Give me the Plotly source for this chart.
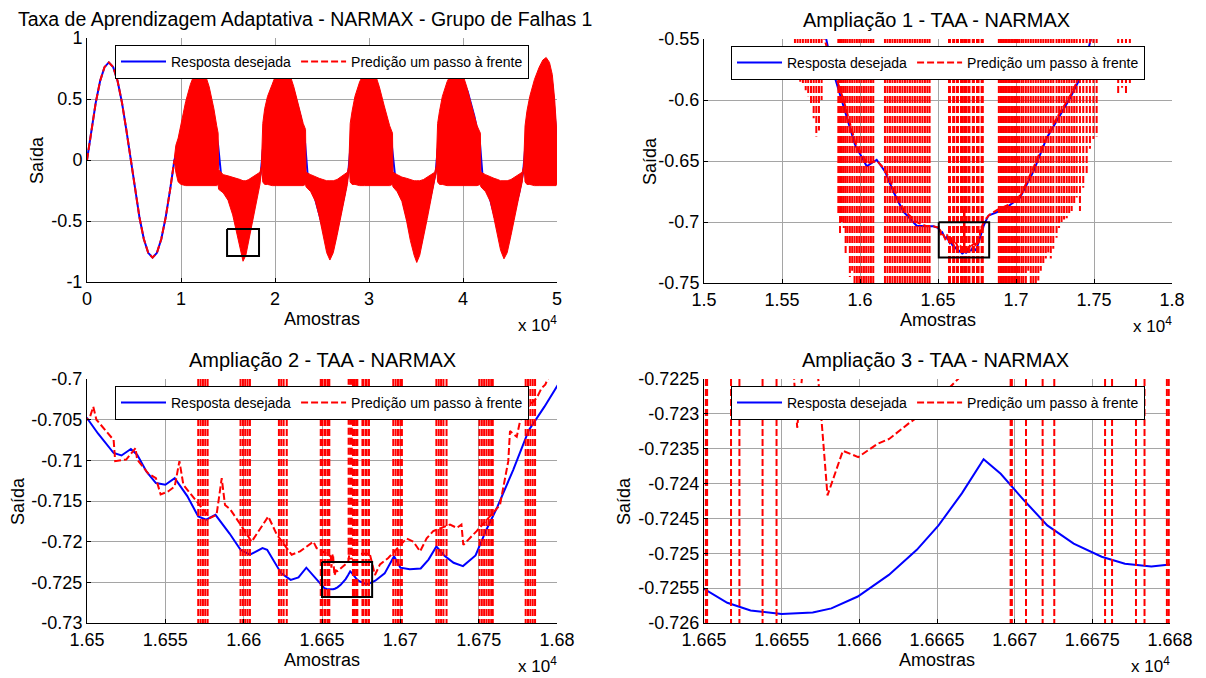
import plotly.graph_objects as go

FONT = "Liberation Sans, Arial, sans-serif"

# ---------------- Panel 1 (whole record) ----------------
tl_x_ticks = [0, 10000, 20000, 30000, 40000, 50000]
tl_x_labels = ["0", "1", "2", "3", "4", "5"]
tl_y_ticks = [-1, -0.5, 0, 0.5, 1]
tl_y_labels = ["-1", "-0.5", "0", "0.5", "1"]

# desired response: first period (clearly visible) ...
tl_blue_x = [0, 465, 930, 1395, 1860, 2325, 2790, 3255, 3720, 4185, 4650, 5115, 5580, 6045,
             6510, 6975, 7440, 7905, 8370, 8835, 9300,
             # ... then the part lying under the oscillating prediction
             9800, 10500, 11200, 12000, 12700, 13400, 13950,
             14300, 15000, 15700, 16300, 16650, 17000, 17500, 18000, 18500,
             18700, 19300, 20000, 20800, 21300, 22000, 22700, 23200,
             23500, 24200, 24900, 25500, 25850, 26300, 26900, 27400, 27800,
             28000, 28600, 29300, 30000, 30400, 31000, 31700, 32400,
             32800, 33500, 34200, 34800, 35080, 35500, 36100, 36700, 37100,
             37300, 37900, 38600, 39300, 39800, 40500, 41200, 41800,
             42100, 42800, 43500, 44000, 44360, 44800, 45400, 46000, 46400,
             46600, 47200, 47900, 48600, 49000, 49500, 50000]
tl_blue_y = [0, 0.247, 0.470, 0.647, 0.761, 0.800, 0.761, 0.647, 0.470, 0.247,
             0, -0.247, -0.470, -0.647, -0.761, -0.800, -0.761, -0.647, -0.470, -0.247, 0,
             0.12, 0.38, 0.58, 0.68, 0.60, 0.36, 0.12,
             -0.15, -0.28, -0.46, -0.64, -0.726, -0.68, -0.50, -0.28, -0.10,
             0.08, 0.36, 0.56, 0.68, 0.70, 0.56, 0.36, 0.14,
             -0.15, -0.30, -0.50, -0.68, -0.74, -0.68, -0.46, -0.28, -0.10,
             0.08, 0.38, 0.58, 0.68, 0.68, 0.56, 0.36, 0.14,
             -0.15, -0.30, -0.52, -0.72, -0.76, -0.70, -0.46, -0.26, -0.10,
             0.08, 0.38, 0.58, 0.68, 0.68, 0.56, 0.36, 0.14,
             -0.15, -0.30, -0.50, -0.66, -0.73, -0.68, -0.44, -0.26, -0.10,
             0.08, 0.38, 0.60, 0.74, 0.76, 0.62, 0.14]
# prediction equals the desired response during the first period
tl_red_x = [0, 465, 930, 1395, 1860, 2325, 2790, 3255, 3720, 4185, 4650, 5115, 5580, 6045,
            6510, 6975, 7440, 7905, 8370, 8835, 9300]
tl_red_y = [0, 0.247, 0.470, 0.647, 0.761, 0.800, 0.761, 0.647, 0.470, 0.247,
            0, -0.247, -0.470, -0.647, -0.761, -0.800, -0.761, -0.647, -0.470, -0.247, 0]
# envelope of the dense oscillating prediction (upper / lower limits)
tl_env_x = [
    9300, 9450, 9700, 10000, 10500, 11000, 11500, 12000, 12500, 13000, 13500, 13800, 13950,
    14000, 14500, 15000, 15500, 16000, 16300, 16600, 16900, 17200, 17600, 18000, 18400, 18550,
    18600, 18700, 18900, 19200, 19700, 20200, 20600, 21050, 21500, 22000, 22500, 23000, 23250,
    23300, 23800, 24300, 24700, 25100, 25500, 25840, 26200, 26600, 27000, 27400, 27700, 27850,
    27900, 28000, 28200, 28500, 29000, 29500, 29900, 30200, 30600, 31100, 31600, 32200, 32500,
    32550, 33000, 33500, 34000, 34400, 34800, 35080, 35400, 35800, 36200, 36600, 37000, 37150,
    37200, 37300, 37500, 37800, 38300, 38800, 39200, 39500, 39900, 40400, 40900, 41500, 41850,
    41900, 42400, 42900, 43300, 43700, 44000, 44360, 44700, 45100, 45500, 45900, 46300, 46450,
    46500, 46600, 46800, 47100, 47600, 48100, 48500, 48850, 49200, 49500, 49750, 49900, 50000,
]
tl_env_up = [
    0.02, 0.12, 0.18, 0.30, 0.48, 0.62, 0.72, 0.75, 0.72, 0.60, 0.42, 0.28, 0.22,
    -0.08, -0.12, -0.13, -0.14, -0.15, -0.16, -0.17, -0.17, -0.16, -0.14, -0.12, -0.10, -0.05,
    0.05, 0.30, 0.42, 0.52, 0.62, 0.72, 0.77, 0.78, 0.72, 0.60, 0.45, 0.30, 0.25,
    -0.10, -0.12, -0.14, -0.15, -0.16, -0.17, -0.17, -0.17, -0.16, -0.14, -0.12, -0.10, -0.05,
    0.05, 0.30, 0.40, 0.52, 0.64, 0.72, 0.76, 0.77, 0.72, 0.60, 0.45, 0.28, 0.22,
    -0.10, -0.12, -0.14, -0.15, -0.16, -0.17, -0.17, -0.17, -0.16, -0.14, -0.12, -0.10, -0.05,
    0.05, 0.30, 0.40, 0.52, 0.64, 0.72, 0.76, 0.77, 0.72, 0.60, 0.45, 0.28, 0.22,
    -0.10, -0.12, -0.14, -0.15, -0.16, -0.17, -0.17, -0.17, -0.16, -0.14, -0.12, -0.10, -0.05,
    0.05, 0.28, 0.40, 0.52, 0.66, 0.76, 0.82, 0.84, 0.80, 0.70, 0.50, 0.30, 0.20,
]
tl_env_lo = [
    0.0, -0.10, -0.18, -0.20, -0.21, -0.21, -0.21, -0.21, -0.21, -0.21, -0.21, -0.21, -0.20,
    -0.24, -0.27, -0.33, -0.45, -0.62, -0.74, -0.83, -0.78, -0.66, -0.50, -0.34, -0.20, -0.10,
    -0.05, -0.18, -0.20, -0.20, -0.21, -0.21, -0.21, -0.21, -0.21, -0.21, -0.21, -0.21, -0.20,
    -0.22, -0.26, -0.34, -0.46, -0.62, -0.76, -0.82, -0.76, -0.62, -0.46, -0.32, -0.20, -0.10,
    -0.05, -0.18, -0.20, -0.20, -0.21, -0.21, -0.21, -0.21, -0.21, -0.21, -0.21, -0.21, -0.20,
    -0.22, -0.26, -0.34, -0.50, -0.66, -0.78, -0.84, -0.78, -0.64, -0.48, -0.32, -0.18, -0.10,
    -0.05, -0.18, -0.20, -0.20, -0.21, -0.21, -0.21, -0.21, -0.21, -0.21, -0.21, -0.21, -0.20,
    -0.22, -0.26, -0.34, -0.48, -0.64, -0.74, -0.81, -0.76, -0.62, -0.46, -0.32, -0.18, -0.10,
    -0.05, -0.18, -0.20, -0.20, -0.21, -0.21, -0.21, -0.21, -0.21, -0.21, -0.21, -0.21, -0.20,
]
tl_box_x = [14900, 18300, 18300, 14900, 14900]
tl_box_y = [-0.566, -0.566, -0.787, -0.787, -0.566]

# ---------------- Zoomed detail (shared by panels 2-4) ----------------
zoom_blue_x = [
    15700, 15780, 15827, 15893, 15968, 16043, 16075, 16107, 16160, 16213, 16277, 16363, 16420, 16470,
    16500, 16507, 16517, 16522, 16528, 16532, 16538, 16544, 16550, 16556, 16564, 16571, 16576, 16582,
    16591, 16598, 16604, 16612, 16615, 16624, 16630, 16635, 16640, 16645,
    16650.0, 16651.5, 16653.0, 16655.0, 16657.0, 16658.2, 16659.9, 16661.9, 16663.7, 16665.1,
    16666.6, 16668.0, 16669.1, 16670.6, 16672.1, 16673.8, 16675.6, 16677.1, 16678.8, 16680.0,
    16684, 16690, 16696, 16700, 16706, 16713, 16718, 16723, 16728, 16734, 16740, 16748, 16755,
    16762, 16772, 16782, 16792, 16800, 16823, 16876, 16930, 17026, 17112, 17197, 17261, 17347,
    17422, 17474, 17520,
]
zoom_blue_y = [
    -0.520, -0.548, -0.5765, -0.604, -0.6366, -0.6543, -0.652, -0.649, -0.6585, -0.6748, -0.6913,
    -0.703, -0.7035, -0.7035,
    -0.7048, -0.7067, -0.7091, -0.7094, -0.7086, -0.7093, -0.7114, -0.7128, -0.7130, -0.7122,
    -0.7144, -0.7169, -0.7173, -0.7167, -0.7190, -0.7210, -0.7216, -0.7208, -0.7210, -0.7239,
    -0.7247, -0.7244, -0.7232, -0.7243,
    -0.72551, -0.72571, -0.72582, -0.72587, -0.72585, -0.72579, -0.72562, -0.72531, -0.72495,
    -0.72460, -0.72414, -0.72365, -0.72386, -0.72424, -0.72460, -0.72486, -0.72505, -0.72515,
    -0.72519, -0.72516,
    -0.7248, -0.7239, -0.7218, -0.7232, -0.7234, -0.7233, -0.7222, -0.7206, -0.7217, -0.7226,
    -0.7230, -0.7217, -0.7185, -0.7157, -0.7112, -0.7063, -0.7034, -0.7009, -0.6948, -0.692,
    -0.689, -0.680, -0.6585, -0.6311, -0.6175, -0.5984, -0.5793, -0.5546, -0.530,
]
zoom_red_x = [
    15760, 15830, 15895, 15970, 16045, 16110, 16160, 16215, 16280, 16360, 16420, 16470,
    16500, 16502, 16504, 16506, 16511, 16517, 16518, 16525, 16531, 16532, 16539, 16544, 16547,
    16552, 16556, 16559, 16561.5, 16570, 16578.5, 16582.7, 16586, 16588.1, 16591.3, 16596.6,
    16605.1, 16615.7, 16621.1, 16630.6, 16636, 16644.5, 16646.6,
    16655.6, 16656.0, 16656.6, 16657.0, 16657.95, 16658.94, 16659.93, 16661.17, 16661.92,
    16663.16, 16664.40, 16665.64, 16666.8, 16667.5, 16680.5,
    16683.8, 16687, 16692.3, 16704, 16708.3, 16712.6, 16716.8, 16721, 16731.7, 16736, 16739,
    16740.2, 16744.5, 16748.7, 16763.6, 16768.9, 16770, 16774.3, 16776.4, 16779.6, 16787.1,
    16790.2, 16792.5, 16796.8, 16830, 16880, 16950, 17030, 17110, 17200, 17260, 17350, 17420,
    17480,
]
zoom_red_y = [
    -0.545, -0.575, -0.600, -0.635, -0.652, -0.650, -0.657, -0.672, -0.690, -0.700, -0.703, -0.7035,
    -0.7050, -0.7046, -0.7034, -0.7050, -0.7061, -0.7075, -0.7101, -0.7099, -0.7085, -0.7099,
    -0.7116, -0.7122, -0.7142, -0.7138, -0.7132, -0.7101, -0.7130, -0.7150, -0.7171, -0.7167,
    -0.7122, -0.7155, -0.7160, -0.7175,
    -0.7200, -0.7169, -0.7191, -0.7216, -0.7212, -0.7200, -0.7208,
    -0.7218, -0.7232, -0.7218, -0.7215, -0.72417, -0.72353, -0.72362, -0.72343, -0.72336,
    -0.72314, -0.72294, -0.72267, -0.7224, -0.7215, -0.7215,
    -0.7241, -0.7228, -0.7220, -0.7196, -0.7200, -0.7212, -0.7196, -0.7187, -0.7179, -0.7183,
    -0.7179, -0.7204, -0.7196, -0.7187, -0.7155, -0.7101, -0.7064, -0.7071, -0.7052, -0.7038,
    -0.7023, -0.7011, -0.7007, -0.6988, -0.694, -0.690, -0.686, -0.678, -0.656, -0.629, -0.615,
    -0.596, -0.577, -0.550,
]

# oscillation bursts: vertical excursions of the prediction (x, lowest value)
burst_a_x = [15583, 15600, 15617, 15634, 15652, 15668, 15686, 15703, 15720, 15737, 15754]
burst_a_lo = [-0.575, -0.580, -0.585, -0.588, -0.592, -0.597, -0.605, -0.615, -0.630, -0.625, -0.600]
burst_b_x = [15861, 15872, 15884, 15896, 15908, 15920, 15935, 15950, 15965, 15980, 15995, 16010,
             16025, 16040, 16055, 16070, 16085]
burst_b_lo = [-0.694, -0.711, -0.700, -0.705, -0.727, -0.718, -0.745, -0.740, -0.80, -0.80, -0.80,
              -0.80, -0.80, -0.80, -0.80, -0.80, -0.80]
burst_c_x = [16160, 16176, 16192, 16208, 16224, 16240, 16256, 16272, 16288, 16304, 16320, 16336,
             16352, 16368, 16384, 16400, 16416, 16432, 16446]
burst_c_lo = [-0.80] * 19
burst_d_x = [16571, 16572.5, 16574, 16575.5, 16577, 16598, 16599.5, 16601, 16602.5, 16604,
             16622.5, 16624, 16625.5, 16627.5, 16649.2, 16650.12, 16650.2, 16651.74, 16652.28,
             16653.77, 16654.67, 16669.74, 16669.82, 16670.73, 16671.8, 16672.55, 16675.82,
             16676.27, 16677.81, 16678.36, 16679.8, 16679.92, 16695.5, 16697, 16698.5, 16700,
             16701, 16723, 16724.5, 16726, 16727.5, 16729.5, 16750.5, 16752, 16753.5, 16755,
             16756.5, 16758, 16759, 16780, 16781.5, 16783, 16784.5, 16786]
burst_d_lo = [-0.80] * 54
burst_d2_x = [16667.0, 16668.0, 16669.0]
burst_d2_lo = [-0.7222, -0.7222, -0.7222]
burst_e_x = [16890, 16900, 16910, 16920, 16930, 16940, 16950, 16960, 16970, 16980, 16990, 17000,
             17010, 17020]
burst_e_lo = [-0.80] * 14
burst_f_x = [17035, 17047, 17063, 17079, 17095, 17111, 17127, 17143, 17159, 17175, 17191, 17207,
             17223, 17239, 17260, 17276, 17292, 17308, 17325, 17341, 17357, 17373, 17389, 17410,
             17431, 17453, 17474, 17496, 17517]
burst_f_lo = [-0.80, -0.80, -0.76, -0.74, -0.78, -0.80, -0.76, -0.748, -0.74, -0.735, -0.73, -0.725,
              -0.73, -0.722, -0.713, -0.705, -0.700, -0.698, -0.697, -0.694, -0.691, -0.686, -0.680,
              -0.691, -0.672, -0.662, -0.640, -0.632, -0.630]
burst_g_x = [17655, 17680, 17705, 17730]
burst_g_lo = [-0.595, -0.590, -0.596, -0.586]
burst_top = -0.40      # excursions leave the zoom windows at the top
burst_d2_top = -0.69

tr_box_x = [16505, 16828, 16828, 16505, 16505]
tr_box_y = [-0.7003, -0.7003, -0.729, -0.729, -0.7003]
bl_box_x = [16650, 16682, 16682, 16650, 16650]
bl_box_y = [-0.7225, -0.7225, -0.7268, -0.7268, -0.7225]

tr_x_ticks = [15000, 15500, 16000, 16500, 17000, 17500, 18000]
tr_x_labels = ["1.5", "1.55", "1.6", "1.65", "1.7", "1.75", "1.8"]
tr_y_ticks = [-0.75, -0.7, -0.65, -0.6, -0.55]
tr_y_labels = ["-0.75", "-0.7", "-0.65", "-0.6", "-0.55"]
bl_x_ticks = [16500, 16550, 16600, 16650, 16700, 16750, 16800]
bl_x_labels = ["1.65", "1.655", "1.66", "1.665", "1.67", "1.675", "1.68"]
bl_y_ticks = [-0.73, -0.725, -0.72, -0.715, -0.71, -0.705, -0.7]
bl_y_labels = ["-0.73", "-0.725", "-0.72", "-0.715", "-0.71", "-0.705", "-0.7"]
br_x_ticks = [16650, 16655, 16660, 16665, 16670, 16675, 16680]
br_x_labels = ["1.665", "1.6655", "1.666", "1.6665", "1.667", "1.6675", "1.668"]
br_y_ticks = [-0.726, -0.7255, -0.725, -0.7245, -0.724, -0.7235, -0.723, -0.7225]
br_y_labels = ["-0.726", "-0.7255", "-0.725", "-0.7245", "-0.724", "-0.7235", "-0.723", "-0.7225"]

titles = ["Taxa de Aprendizagem Adaptativa - NARMAX - Grupo de Falhas 1",
          "Ampliação 1 - TAA - NARMAX", "Ampliação 2 - TAA - NARMAX", "Ampliação 3 - TAA - NARMAX"]
legend_names = ["Resposta desejada", "Predição um passo à frente"]

# ---------------- build ----------------
OFF = 8                      # the page body adds an 8px margin
W, H = 1206 - OFF, 678 - OFF
BLUE = "rgb(0,0,255)"
RED = "rgb(255,0,0)"
DASH = "7px,3px"

def px_x(p):
    return (p - OFF) / W

def px_y(p):
    return 1 - (p - OFF) / H

# plot rectangles in window pixels: left, right, top, bottom
rects = [(87, 557, 38, 282), (704, 1172, 39, 283), (87, 557, 379, 623), (704, 1170, 379, 623)]

def bursts(groups, top):
    X, Y = [], []
    for xs, los in groups:
        for x, lo in zip(xs, los):
            X += [x, x, None]
            Y += [top, lo, None]
    return X, Y

fig = go.Figure()

# Panel 1
fig.add_trace(go.Scatter(x=tl_blue_x, y=tl_blue_y, mode="lines", line=dict(color=BLUE, width=2),
                         name=legend_names[0], legend="legend", xaxis="x", yaxis="y"))
fig.add_trace(go.Scatter(x=tl_red_x, y=tl_red_y, mode="lines", line=dict(color=RED, width=2, dash=DASH),
                         name=legend_names[1], legend="legend", xaxis="x", yaxis="y"))
fig.add_trace(go.Scatter(x=tl_env_x, y=tl_env_lo, mode="lines", line=dict(color=RED, width=1),
                         showlegend=False, xaxis="x", yaxis="y"))
fig.add_trace(go.Scatter(x=tl_env_x, y=tl_env_up, mode="lines", line=dict(color=RED, width=1),
                         fill="tonexty", fillcolor=RED, showlegend=False, xaxis="x", yaxis="y"))
fig.add_trace(go.Scatter(x=tl_box_x, y=tl_box_y, mode="lines", line=dict(color="black", width=2),
                         showlegend=False, xaxis="x", yaxis="y"))

groups_main = [(burst_a_x, burst_a_lo), (burst_b_x, burst_b_lo), (burst_c_x, burst_c_lo),
               (burst_d_x, burst_d_lo), (burst_e_x, burst_e_lo), (burst_f_x, burst_f_lo),
               (burst_g_x, burst_g_lo)]
bx, by = bursts(groups_main, burst_top)
bx2, by2 = bursts([(burst_d2_x, burst_d2_lo)], burst_d2_top)

boxes = {2: (tr_box_x, tr_box_y), 3: (bl_box_x, bl_box_y)}
for i in (2, 3, 4):
    xa, ya, lg = f"x{i}", f"y{i}", f"legend{i}"
    fig.add_trace(go.Scatter(x=zoom_blue_x, y=zoom_blue_y, mode="lines", line=dict(color=BLUE, width=2),
                             name=legend_names[0], legend=lg, xaxis=xa, yaxis=ya))
    fig.add_trace(go.Scatter(x=zoom_red_x, y=zoom_red_y, mode="lines",
                             line=dict(color=RED, width=2, dash=DASH),
                             name=legend_names[1], legend=lg, xaxis=xa, yaxis=ya))
    fig.add_trace(go.Scatter(x=bx, y=by, mode="lines", line=dict(color=RED, width=2, dash=DASH),
                             showlegend=False, xaxis=xa, yaxis=ya))
    fig.add_trace(go.Scatter(x=bx2, y=by2, mode="lines", line=dict(color=RED, width=2, dash=DASH),
                             showlegend=False, xaxis=xa, yaxis=ya))
    if i in boxes:
        fig.add_trace(go.Scatter(x=boxes[i][0], y=boxes[i][1], mode="lines",
                                 line=dict(color="black", width=2), showlegend=False, xaxis=xa, yaxis=ya))

ticks = [
    (tl_x_ticks, tl_x_labels, tl_y_ticks, tl_y_labels, [0, 50000], [-1, 1]),
    (tr_x_ticks, tr_x_labels, tr_y_ticks, tr_y_labels, [15000, 18000], [-0.75, -0.55]),
    (bl_x_ticks, bl_x_labels, bl_y_ticks, bl_y_labels, [16500, 16800], [-0.73, -0.70]),
    (br_x_ticks, br_x_labels, br_y_ticks, br_y_labels, [16650, 16680], [-0.726, -0.7225]),
]

axis_common = dict(showgrid=True, gridcolor="rgb(165,165,165)", gridwidth=1, zeroline=False,
                   showline=True, linecolor="black", linewidth=1, ticks="inside", ticklen=4,
                   tickcolor="black", automargin=False,
                   tickfont=dict(family=FONT, size=18, color="black"))
layout = dict(template="none", width=W, height=H, margin=dict(l=0, r=0, t=0, b=0, pad=0),
              paper_bgcolor="white", plot_bgcolor="white", font=dict(family=FONT, color="black"))
annotations = []
for k, ((l, r, t, b), (xt, xl, yt, yl, xr, yr)) in enumerate(zip(rects, ticks)):
    sfx = "" if k == 0 else str(k + 1)
    layout["xaxis" + sfx] = dict(axis_common, domain=[px_x(l), px_x(r)], range=xr, tickvals=xt,
                                 ticktext=xl, anchor="y" + sfx)
    layout["yaxis" + sfx] = dict(axis_common, domain=[px_y(b), px_y(t)], range=yr, tickvals=yt,
                                 ticktext=yl, anchor="x" + sfx)
    leg_left = l + 28 if k in (0, 2) else l + 27
    layout["legend" + sfx] = dict(x=px_x(leg_left), y=px_y(t + 7), xanchor="left", yanchor="top",
                                  orientation="h", bgcolor="white", bordercolor="black", borderwidth=1,
                                  font=dict(family=FONT, size=14, color="black"), itemwidth=45,
                                  tracegroupgap=0, traceorder="normal")
    cx = (l + r) / 2
    tx = 305 if k == 0 else (cx - 2 if k % 2 == 1 else cx)
    tsize = 19.5 if k == 0 else 20
    annotations.append(dict(text=titles[k], x=px_x(tx), y=px_y(t - 19), xref="paper", yref="paper",
                            xanchor="center", yanchor="middle", showarrow=False,
                            font=dict(family=FONT, size=tsize, color="black")))
    annotations.append(dict(text="Amostras", x=px_x(cx), y=px_y(b + 37), xref="paper", yref="paper",
                            xanchor="center", yanchor="middle", showarrow=False,
                            font=dict(family=FONT, size=18, color="black")))
    sx = {0: 37, 1: 650, 2: 18, 3: 624}[k]
    annotations.append(dict(text="Saída", x=px_x(sx), y=px_y((t + b) / 2), xref="paper", yref="paper",
                            xanchor="center", yanchor="middle", textangle=-90, showarrow=False,
                            font=dict(family=FONT, size=18, color="black")))
    annotations.append(dict(text="x 10<sup>4</sup>", x=px_x(r + 2), y=px_y(b + 42), xref="paper",
                            yref="paper", xanchor="right", yanchor="middle", showarrow=False,
                            font=dict(family=FONT, size=17, color="black")))
layout["annotations"] = annotations
fig.update_layout(**layout)
fig.write_html("out.html")
